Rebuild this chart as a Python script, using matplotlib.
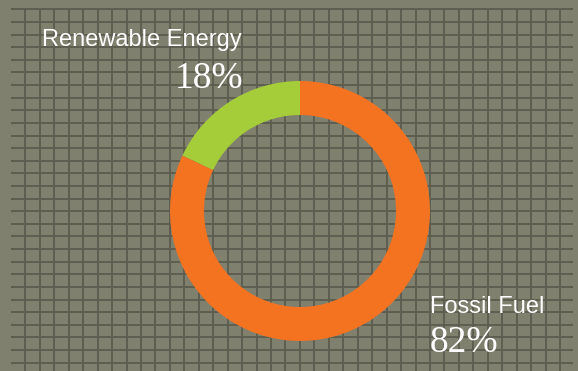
import numpy as np
import matplotlib.pyplot as plt

W, H = 578, 371

labels = ["Renewable Energy", "Fossil Fuel"]
shares = [18, 82]
colors = ["#a5cd39", "#f47321"]

BG = "#80806f"
GRID = "#5c5d50"

fig = plt.figure(figsize=(W / 100, H / 100), dpi=100, facecolor=BG)
ax = fig.add_axes([0, 0, 1, 1])
ax.set_facecolor(BG)

# graph paper grid (pixel coords, y measured from the top)
xs = np.arange(25.4, 565, 14.45)
ys = np.arange(9.3, 366, 12.62)
ax.hlines(H - ys, 11, 573, color=GRID, lw=1.35, zorder=1)
ax.vlines(xs, 0, H - 9.3, color=GRID, lw=1.35, zorder=1)

# donut
cx, cy, r = 300, H - 211, 130
ax.pie(shares, colors=colors, startangle=90, counterclock=True,
       center=(cx, cy), radius=r,
       wedgeprops=dict(width=34, edgecolor="none", zorder=2))

ax.set_xlim(0, W)
ax.set_ylim(0, H)
ax.set_aspect("equal")
ax.axis("off")

sans = ["Liberation Sans", "DejaVu Sans"]
serif = ["Liberation Serif", "DejaVu Serif"]

ax.text(42, H - 46, labels[0], color="white", fontsize=17, family=sans,
        ha="left", va="baseline")
ax.text(175, H - 88, f"{shares[0]}%", color="white", fontsize=27,
        family=serif, ha="left", va="baseline")
ax.text(430, H - 313, labels[1], color="white", fontsize=17, family=sans,
        ha="left", va="baseline")
ax.text(430, H - 352, f"{shares[1]}%", color="white", fontsize=27,
        family=serif, ha="left", va="baseline")

fig.savefig("out.png", dpi=100, facecolor=BG)
